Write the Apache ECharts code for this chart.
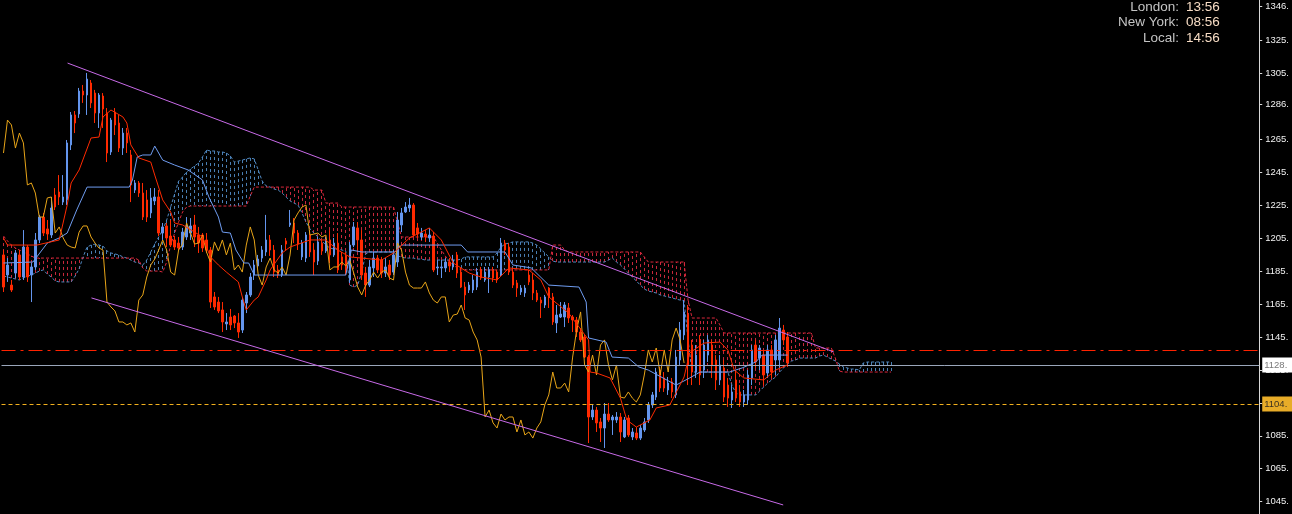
<!DOCTYPE html>
<html><head><meta charset="utf-8">
<script src="https://cdn.jsdelivr.net/npm/echarts/dist/echarts.min.js"></script>
<style>html,body{margin:0;padding:0;background:#000;overflow:hidden}#c{width:1292px;height:514px}</style>
</head><body><div id="c"></div>
<script>
// ---- data (prices) ----
const yTicks = [1045,1065,1085,1105,1125,1145,1165,1185,1205,1225,1245,1265,1286,1305,1325,1346];
// candles: [open, close, low, high]
const candles = [
[1194.8,1175.3,1172.3,1197.8],[1182.6,1188.7,1178.4,1192.9],[1176.5,1173.5,1172.3,1179.6],[1183.8,1196.0,1180.8,1197.8],[1194.8,1181.4,1179.6,1197.8],
[1181.4,1199.6,1179.6,1209.9],[1199.6,1181.4,1178.4,1200.8],[1182.6,1187.5,1166.2,1189.9],[1187.5,1203.9,1185.7,1208.1],[1203.9,1217.8,1202.0,1219.1],
[1217.8,1208.1,1206.3,1220.3],[1210.6,1207.5,1203.9,1216.0],[1206.9,1223.3,1205.1,1230.0],[1231.2,1223.9,1222.1,1235.4],[1233.0,1230.0,1225.1,1243.3],
[1226.9,1230.0,1225.1,1243.3],[1228.2,1262.8,1225.1,1264.6],[1261.6,1279.8,1258.5,1281.6],[1279.8,1274.9,1268.8,1282.2],[1280.4,1294.3,1278.0,1296.2],
[1294.3,1291.9,1287.1,1298.0],[1291.9,1301.6,1279.8,1305.3],[1299.2,1287.1,1284.0,1301.0],[1293.1,1281.0,1274.9,1295.0],[1281.0,1291.9,1271.9,1293.1],
[1291.3,1283.4,1271.9,1293.1],[1281.0,1256.7,1251.2,1284.0],[1257.3,1276.7,1255.5,1278.0],[1281.6,1273.7,1267.6,1284.0],[1274.9,1259.7,1257.3,1279.8],
[1259.7,1268.8,1255.5,1271.9],[1268.8,1262.8,1256.7,1271.9],[1255.5,1237.3,1226.9,1258.5],[1234.2,1238.5,1232.4,1240.3],[1238.5,1232.4,1230.0,1239.7],
[1232.4,1217.8,1216.0,1238.5],[1228.2,1217.8,1214.8,1234.2],[1220.3,1229.4,1217.2,1235.4],[1227.6,1230.0,1225.1,1235.4],[1230.0,1208.1,1206.3,1234.2],
[1208.1,1211.8,1203.9,1214.2],[1212.4,1205.1,1199.6,1214.2],[1206.3,1200.8,1199.6,1216.0],[1203.9,1199.6,1197.8,1206.3],[1202.0,1199.0,1197.8,1205.7],
[1199.6,1208.7,1197.8,1211.2],[1205.7,1212.4,1203.9,1217.8],[1208.1,1212.4,1203.9,1217.2],[1213.0,1205.7,1199.6,1219.1],[1206.9,1202.0,1196.0,1211.8],
[1206.9,1199.0,1196.6,1208.1],[1203.9,1197.8,1196.0,1208.1],[1197.8,1166.2,1162.6,1199.6],[1169.3,1163.2,1161.4,1172.3],[1166.2,1160.8,1159.5,1169.3],
[1161.4,1154.1,1148.0,1166.2],[1152.9,1154.1,1149.2,1159.5],[1157.1,1152.3,1149.2,1162.0],[1157.7,1153.5,1150.4,1158.3],[1153.5,1148.0,1144.4,1159.5],
[1149.2,1167.4,1147.4,1169.3],[1165.6,1170.5,1159.5,1172.3],[1170.5,1181.4,1169.3,1183.8],[1182.6,1188.7,1179.6,1191.7],[1188.1,1192.3,1186.9,1194.8],
[1192.9,1197.8,1190.5,1200.2],[1196.6,1203.9,1194.2,1219.1],[1203.9,1197.8,1194.2,1206.9],[1197.8,1184.4,1181.4,1200.8],[1185.7,1182.6,1180.8,1188.7],
[1182.6,1197.8,1181.4,1200.8],[1203.3,1201.4,1197.8,1205.1],[1213.0,1214.2,1211.8,1222.1],[1214.2,1208.1,1202.0,1217.2],[1208.1,1201.4,1197.8,1209.9],
[1193.6,1202.0,1191.7,1203.9],[1192.9,1206.9,1190.5,1208.7],[1206.9,1196.6,1193.6,1209.9],[1197.8,1190.5,1182.6,1202.0],[1191.1,1202.7,1188.7,1205.7],
[1202.0,1197.2,1194.8,1203.9],[1197.2,1203.9,1196.0,1205.7],[1203.9,1194.8,1189.9,1209.9],[1194.8,1202.0,1193.6,1205.1],[1202.0,1185.7,1183.8,1208.1],
[1193.6,1188.7,1185.7,1196.6],[1194.2,1184.4,1182.6,1196.6],[1179.6,1200.8,1177.8,1202.7],[1200.8,1211.8,1199.6,1214.8],[1211.2,1203.9,1196.6,1214.8],
[1203.9,1182.6,1179.6,1209.9],[1183.8,1176.5,1169.3,1187.5],[1176.5,1187.5,1175.3,1191.7],[1186.9,1192.9,1181.4,1196.6],[1192.9,1185.7,1183.8,1194.8],
[1191.7,1183.8,1180.8,1193.6],[1183.8,1187.5,1181.4,1192.9],[1188.7,1182.6,1179.6,1191.7],[1184.4,1194.8,1182.6,1197.8],[1190.5,1216.0,1187.5,1220.9],
[1213.0,1220.3,1208.7,1223.3],[1220.9,1223.9,1220.3,1226.9],[1223.3,1225.1,1220.9,1229.4],[1225.1,1206.9,1205.7,1226.3],[1211.2,1207.5,1205.1,1214.2],
[1205.7,1208.1,1203.9,1211.2],[1207.5,1205.7,1202.7,1209.9],[1205.1,1206.9,1202.7,1211.2],[1206.3,1185.7,1184.4,1208.7],[1186.9,1187.5,1182.6,1191.7],
[1186.9,1187.5,1180.8,1191.7],[1186.9,1190.5,1184.4,1192.9],[1190.5,1188.1,1184.4,1192.9],[1187.5,1191.7,1185.7,1194.8],[1194.8,1183.8,1180.8,1196.6],
[1184.4,1175.3,1174.7,1186.9],[1175.3,1170.5,1161.4,1178.4],[1173.5,1176.5,1171.7,1178.4],[1173.5,1179.6,1171.7,1182.6],[1175.3,1184.4,1173.5,1186.9],
[1185.7,1180.8,1179.6,1187.5],[1179.6,1184.4,1178.4,1187.5],[1181.4,1185.7,1171.7,1187.5],[1185.7,1180.8,1178.4,1187.5],[1184.4,1179.6,1177.8,1185.7],
[1182.6,1202.0,1181.4,1205.1],[1202.0,1197.8,1194.8,1203.9],[1199.6,1184.4,1182.6,1202.0],[1184.4,1176.5,1174.7,1186.9],[1177.8,1174.7,1169.3,1179.6],
[1172.3,1174.7,1170.5,1176.5],[1171.7,1174.7,1169.3,1176.5],[1182.6,1178.4,1176.5,1185.7],[1179.6,1171.7,1167.4,1183.8],[1171.7,1167.4,1166.2,1173.5],
[1167.4,1165.6,1156.5,1169.3],[1164.4,1169.3,1162.6,1170.5],[1174.7,1169.3,1162.6,1175.3],[1169.3,1154.1,1152.3,1171.7],[1153.5,1158.3,1147.4,1164.4],
[1157.1,1158.9,1156.5,1166.2],[1157.1,1164.4,1151.0,1166.2],[1162.6,1156.5,1153.5,1165.6],[1157.1,1155.3,1148.0,1158.3],[1155.3,1148.0,1145.0,1157.1],
[1148.0,1143.2,1141.9,1150.4],[1145.0,1132.8,1132.2,1146.2],[1132.8,1096.4,1080.6,1134.0],[1096.4,1100.6,1094.6,1103.7],[1100.6,1092.8,1087.3,1102.5],
[1093.4,1089.7,1081.2,1095.8],[1089.7,1098.2,1077.6,1104.9],[1098.2,1094.6,1093.4,1104.9],[1094.6,1096.4,1085.5,1097.6],[1094.6,1096.4,1092.8,1099.4],
[1096.4,1087.3,1081.2,1098.8],[1084.3,1094.6,1083.6,1096.4],[1095.8,1085.5,1084.3,1097.6],[1084.3,1087.3,1082.4,1089.7],[1086.7,1083.6,1082.4,1090.3],
[1083.6,1089.7,1082.4,1091.5],[1088.5,1093.4,1087.3,1095.8],[1094.6,1103.7,1092.8,1105.5],[1103.7,1109.8,1101.9,1111.6],[1108.5,1123.7,1106.7,1126.2],
[1124.9,1114.0,1111.6,1126.8],[1120.1,1114.0,1111.6,1123.7],[1112.8,1117.0,1109.8,1120.7],[1117.7,1111.6,1107.9,1120.1],[1109.8,1132.8,1107.9,1137.1],
[1131.0,1149.2,1128.0,1154.1],[1146.2,1160.2,1143.2,1167.4],[1158.3,1128.0,1115.8,1164.4],[1140.1,1123.7,1115.8,1143.2],[1123.7,1134.0,1120.1,1140.1],
[1143.2,1121.9,1115.8,1146.2],[1124.9,1140.1,1120.1,1143.2],[1134.0,1143.2,1129.8,1146.2],[1140.1,1128.0,1120.1,1143.2],[1131.0,1118.9,1112.8,1134.0],
[1118.9,1128.0,1115.8,1134.0],[1126.2,1108.5,1105.5,1131.0],[1115.8,1107.9,1102.5,1120.1],[1106.7,1111.6,1101.9,1115.8],[1118.9,1107.9,1105.5,1124.9],
[1111.6,1105.5,1102.5,1115.8],[1105.5,1109.8,1102.5,1112.8],[1106.7,1121.9,1103.7,1124.9],[1120.1,1137.1,1115.8,1140.1],[1140.1,1129.8,1126.2,1143.2],
[1132.2,1138.3,1124.9,1140.1],[1134.0,1121.9,1115.8,1137.1],[1123.1,1137.1,1120.1,1140.1],[1137.1,1123.7,1120.1,1140.1],[1131.0,1143.2,1121.9,1146.2],
[1131.0,1150.4,1126.2,1156.5],[1149.2,1143.2,1140.1,1152.3],[1145.0,1129.2,1126.8,1148.0]
];
// Tenkan-sen (red) breakpoints [barIndex, price]
const tenkan = [[0,1205.1],[1,1200.8],[8.4,1200.8],[14,1203.9],[16,1225.1],[17,1238.5],[19,1246.4],[22,1265.8],[24,1266.4],[25,1278.6],[27,1282.8],[30,1278.6],[31,1274.9],[32,1261.6],[34,1253.7],[37,1251.2],[38,1243.3],[40,1228.2],[42,1220.9],[43,1214.2],[45,1213.0],[48,1208.7],[50,1205.7],[52,1193.6],[54,1188.7],[56,1184.4],[59,1178.4],[60,1169.3],[61,1161.4],[63,1167.4],[64,1169.3],[66,1179.6],[67,1185.7],[70,1196.0],[72,1199.6],[77,1203.9],[81,1203.9],[84,1197.8],[87,1193.6],[95,1191.7],[98,1196.0],[102,1205.1],[107,1211.2],[110,1203.9],[113,1189.9],[117,1183.8],[120,1181.4],[124,1179.6],[127,1186.9],[132,1185.7],[135,1179.6],[137,1169.3],[142,1159.5],[147,1143.2],[147.4,1123.7],[149,1123.1],[152.4,1120.1],[155,1107.9],[156.6,1094.6],[159,1090.3],[162.4,1094.6],[164,1101.9],[167.4,1103.7],[171,1120.7],[172.4,1135.3],[176,1141.3],[180,1141.9],[182,1137.1],[183.6,1124.9],[186,1120.1],[191,1118.9],[194,1124.9],[197,1128.0]];
// Kijun-sen (blue) breakpoints
const kijun = [[0,1189.9],[7.4,1190.5],[11,1202.0],[14,1205.1],[16,1208.1],[18.4,1222.1],[21,1236.0],[31.6,1236.0],[32.4,1240.3],[33.6,1254.3],[35,1255.5],[37,1255.5],[38,1260.9],[40,1252.4],[43,1249.4],[46.4,1246.4],[50,1240.3],[51.6,1230.0],[54,1217.8],[55,1208.7],[57,1208.1],[58.4,1197.8],[60.4,1189.9],[61.6,1189.9],[63,1182.6],[86,1182.6],[87.4,1197.8],[90,1196.6],[98.4,1196.6],[100,1200.8],[115,1200.8],[116.6,1196.6],[126,1196.6],[128,1188.7],[132.6,1186.9],[137,1176.5],[144.6,1175.3],[146.4,1166.2],[147,1144.4],[151.4,1141.9],[152.9,1132.8],[157,1132.2],[159.6,1126.8],[162,1124.9],[169,1115.8],[172.4,1120.1],[175,1123.7],[182.4,1123.7],[185.6,1126.2],[189,1129.8],[190.6,1134.0],[197,1134.0]];
// Senkou span A / B, one value per bar (shifted 26 bars ahead)
const spanA = [1182.0,1181.4,1180.8,1180.2,1179.6,1180.8,1182.0,1182.6,1183.8,1185.0,
1185.7,1183.2,1181.4,1179.0,1178.4,1178.4,1178.4,1178.4,1182.0,1186.3,
1193.6,1199.6,1200.8,1201.4,1200.8,1200.2,1197.2,1196.0,1195.4,1194.8,
1193.6,1192.9,1191.7,1190.5,1189.9,1188.7,1191.7,1196.6,1201.4,1205.7,
1209.9,1216.0,1223.9,1231.8,1239.7,1242.1,1245.2,1247.0,1248.8,1250.6,
1254.3,1258.5,1257.9,1257.9,1257.3,1257.3,1256.7,1254.9,1251.2,1251.8,
1252.4,1253.1,1253.7,1253.1,1246.4,1239.7,1236.7,1236.0,1234.8,1234.2,
1232.4,1230.0,1227.6,1226.3,1225.1,1220.3,1214.8,1210.6,1208.1,1205.7,
1203.3,1200.8,1199.0,1198.4,1198.4,1197.8,1197.2,1176.5,1175.3,1176.5,
1184.4,1195.4,1196.6,1196.6,1196.6,1196.6,1196.6,1196.6,1196.6,1194.2,
1193.6,1192.9,1192.9,1192.9,1192.3,1192.3,1191.7,1191.7,1191.7,1191.7,
1191.7,1191.7,1191.7,1191.7,1191.7,1192.3,1193.6,1193.6,1193.6,1193.6,
1193.6,1193.6,1193.6,1193.6,1196.0,1199.6,1201.4,1202.0,1202.7,1202.7,
1202.7,1202.7,1202.7,1202.0,1200.8,1198.4,1196.0,1193.6,1191.1,1190.5,
1190.5,1190.5,1190.5,1190.5,1190.5,1190.5,1190.5,1190.5,1190.5,1190.5,
1190.5,1190.5,1191.7,1192.9,1190.5,1188.7,1186.3,1183.8,1181.4,1179.0,
1176.5,1174.1,1172.9,1172.3,1171.7,1170.5,1169.9,1169.3,1168.7,1168.0,
1167.4,1166.8,1143.2,1123.7,1123.7,1123.7,1123.7,1123.7,1123.7,1123.7,
1123.7,1123.7,1123.7,1115.8,1111.0,1109.8,1109.8,1109.8,1109.8,1109.8,
1112.2,1114.6,1117.0,1118.9,1120.7,1123.7,1126.2,1128.6,1130.4,1131.0,
1132.2,1132.2,1132.2,1132.2,1132.2,1133.4,1134.0,1132.8,1131.6,1130.4,
1128.6,1126.8,1126.2,1125.5,1125.5,1124.9,1129.2,1129.8,1129.8,1129.8,
1129.8,1129.8,1129.8,1129.8];
const spanB = [1206.3,1203.3,1200.8,1199.0,1197.8,1196.6,1195.4,1194.2,1192.9,1192.9,
1192.9,1192.9,1192.9,1192.9,1192.9,1192.9,1192.9,1192.9,1192.9,1192.9,
1192.9,1192.9,1192.9,1192.9,1192.9,1192.9,1192.9,1192.9,1192.9,1192.9,
1192.9,1192.9,1192.9,1192.9,1191.7,1186.9,1185.0,1185.0,1185.0,1185.0,
1184.4,1190.5,1200.8,1208.1,1214.8,1220.9,1223.9,1224.5,1224.5,1224.5,
1224.5,1224.5,1224.5,1224.5,1224.5,1224.5,1224.5,1224.5,1224.5,1224.5,
1224.5,1224.5,1230.6,1236.0,1236.0,1236.0,1236.0,1236.0,1236.0,1236.0,
1236.0,1236.0,1236.0,1236.0,1236.0,1236.0,1236.0,1236.0,1234.2,1234.2,
1234.2,1226.3,1226.3,1226.3,1226.3,1223.9,1223.9,1223.9,1223.9,1223.9,
1223.9,1223.9,1223.9,1223.9,1223.9,1223.9,1223.9,1223.9,1223.9,1214.8,
1205.7,1205.7,1205.7,1205.7,1205.7,1205.7,1205.7,1205.7,1205.7,1202.0,
1197.8,1194.2,1190.5,1188.7,1186.9,1185.7,1185.7,1185.7,1185.7,1185.7,
1185.7,1185.7,1185.7,1185.7,1185.7,1185.7,1185.7,1185.7,1185.7,1185.7,
1185.7,1185.7,1185.7,1185.7,1185.7,1185.7,1185.7,1185.7,1200.8,1200.8,
1200.8,1197.8,1196.6,1196.6,1196.6,1196.6,1196.6,1196.6,1196.6,1196.6,
1196.6,1196.6,1196.6,1196.6,1196.6,1196.6,1196.6,1196.6,1196.6,1196.6,
1196.6,1193.6,1190.5,1190.5,1190.5,1190.5,1190.5,1190.5,1190.5,1190.5,
1190.5,1190.5,1167.4,1156.5,1156.5,1156.5,1156.5,1156.5,1156.5,1156.5,
1152.3,1147.4,1147.4,1147.4,1147.4,1147.4,1147.4,1147.4,1147.4,1147.4,
1147.4,1147.4,1147.4,1147.4,1147.4,1147.4,1147.4,1147.4,1147.4,1147.4,
1147.4,1147.4,1147.4,1147.4,1138.3,1138.3,1138.3,1138.3,1138.3,1132.2,
1124.3,1123.7,1123.7,1123.7,1123.7,1123.7,1123.7,1123.7,1123.7,1123.7,
1123.7,1123.7,1123.7,1123.7];
const chikouShift = 26;
const trendUpper = [[16.1,1311.3],[208.6,1135.9]];
const trendLower = [[22.1,1168.7],[195.9,1043.0]];
const levelRed = 1136.9, levelGray = 1128.0, levelOrange = 1104.3;
const clockNames = ['London:','New York:','Local:'];
const clockTimes = ['13:56','08:56','14:56'];

// ---- chart ----
const SLOTS = 316;
const slots = Array.from({length: SLOTS}, (_, i) => String(i));
const closes = candles.map(c => c[1]);
const chikou = closes.slice(chikouShift).map((v, j) => [j, v]);
const cloud = spanA.map((a, i) => [i, a, spanB[i]]);
const BULL = '#6495ed', BEAR = '#ff2a00';
const FONT = '"Liberation Sans", Arial, sans-serif';

const chart = echarts.init(document.getElementById('c'), null, {renderer: 'canvas'});
const lineBase = {type: 'line', xAxisIndex: 1, symbol: 'none', silent: true, animation: false, emphasis: {disabled: true}};

chart.setOption({
  backgroundColor: '#000',
  animation: false,
  grid: {left: 1.5, right: 28, top: 0, bottom: 0},
  xAxis: [
    {type: 'category', data: slots, boundaryGap: true, show: false},
    {type: 'value', min: -0.5, max: SLOTS - 0.5, show: false}
  ],
  yAxis: {
    type: 'value', position: 'right', min: 1037.5, max: 1349.6,
    splitLine: {show: false},
    axisLine: {show: true, onZero: false, lineStyle: {color: '#d8d8d8', width: 1}},
    axisTick: {show: true, length: 3, customValues: yTicks, lineStyle: {color: '#d8d8d8'}},
    axisLabel: {customValues: yTicks, formatter: v => v + '.', color: '#f0f0f0', fontSize: 9.5, fontFamily: FONT, margin: 6}
  },
  series: [
    {
      type: 'custom', xAxisIndex: 1, silent: true, z: 1, data: cloud,
      renderItem: (params, api) => {
        const i = api.value(0), a = api.value(1), b = api.value(2);
        const p1 = api.coord([i, a]), p2 = api.coord([i, b]);
        const x = Math.floor(p1[0]) + 0.5;
        return {type: 'line', shape: {x1: x, y1: p1[1], x2: x, y2: p2[1]},
          style: {stroke: a > b ? '#4a7fb4' : '#c8283c', lineWidth: 1, lineDash: [3, 3]}};
      }
    },
    Object.assign({}, lineBase, {z: 2, data: spanA.map((v, i) => [i, v]), lineStyle: {color: '#5088c0', width: 1, type: [3, 2]}}),
    Object.assign({}, lineBase, {z: 2, data: spanB.map((v, i) => [i, v]), lineStyle: {color: '#dc283c', width: 1, type: [3, 2]}}),
    {
      type: 'candlestick', xAxisIndex: 0, z: 3, silent: true, barWidth: 2, data: candles,
      itemStyle: {color: BULL, color0: BEAR, borderColor: BULL, borderColor0: BEAR, borderWidth: 1},
      markLine: {
        silent: true, symbol: 'none', animation: false,
        data: [
          {yAxis: levelRed, lineStyle: {color: '#ff2200', width: 1, type: [14, 5, 3, 5]}, label: {show: false}},
          {yAxis: levelGray, lineStyle: {color: '#9aa6ba', width: 1, type: 'solid'},
           label: {show: true, position: 'end', distance: 3, formatter: '1128.', backgroundColor: '#ffffff', color: '#7a7a7a',
                   fontSize: 9.5, fontFamily: FONT, padding: [3, 8, 2, 2]}},
          {yAxis: levelOrange, lineStyle: {color: '#f2b01e', width: 1, type: [4, 3]},
           label: {show: true, position: 'end', distance: 3, formatter: '1104.', backgroundColor: '#e8ac28', color: '#3a3020',
                   fontSize: 9.5, fontFamily: FONT, padding: [3, 8, 2, 2]}}
        ]
      }
    },
    Object.assign({}, lineBase, {z: 4, data: chikou, lineStyle: {color: '#e8a518', width: 1}}),
    Object.assign({}, lineBase, {z: 4, data: kijun, lineStyle: {color: '#6f9cf0', width: 1}}),
    Object.assign({}, lineBase, {z: 5, data: tenkan, lineStyle: {color: '#ff2a00', width: 1}}),
    Object.assign({}, lineBase, {z: 5, data: trendUpper, lineStyle: {color: '#c86ae8', width: 1}}),
    Object.assign({}, lineBase, {z: 5, data: trendLower, lineStyle: {color: '#c86ae8', width: 1}})
  ],
  graphic: clockNames.map((n, k) => ({
    type: 'group', children: [
      {type: 'text', x: 1179, y: 7 + k * 15.7, style: {text: n, fill: '#c4c4c4', font: '13.5px ' + FONT, align: 'right', verticalAlign: 'middle', textAlign: 'right', textVerticalAlign: 'middle'}},
      {type: 'text', x: 1186, y: 7 + k * 15.7, style: {text: clockTimes[k], fill: '#f7dcc4', font: '13.5px ' + FONT, align: 'left', verticalAlign: 'middle', textAlign: 'left', textVerticalAlign: 'middle'}}
    ]
  }))
});
</script></body></html>
